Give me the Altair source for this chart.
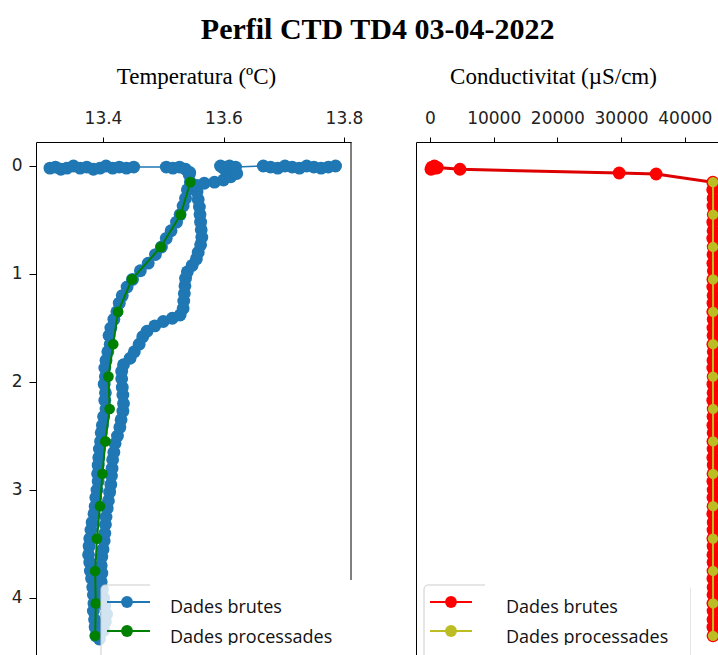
import altair as alt
import pandas as pd

# ---------------- Temperature: raw samples (ºC, depth m), in sampling order ----------------
# surface readings (left group)
t_surf_a = [13.312, 13.321, 13.330, 13.340, 13.351, 13.362, 13.373, 13.384, 13.395, 13.405,
            13.416, 13.427, 13.439, 13.451, 13.505, 13.516, 13.527, 13.537, 13.544]
d_surf_a = [0.02, 0.01, 0.03, 0.02, 0.00, 0.02, 0.01, 0.03, 0.02, 0.00,
            0.02, 0.01, 0.02, 0.01, 0.01, 0.02, 0.01, 0.03, 0.06]
# downcast
t_down = [13.543, 13.545, 13.540, 13.537, 13.533, 13.528, 13.522, 13.513, 13.505, 13.497,
          13.487, 13.475, 13.462, 13.449, 13.440, 13.432, 13.427, 13.423, 13.418, 13.413,
          13.410, 13.412, 13.408, 13.405, 13.403, 13.404, 13.402, 13.404, 13.403, 13.405,
          13.401, 13.399, 13.397, 13.396, 13.394, 13.393, 13.392, 13.391, 13.392, 13.390,
          13.388, 13.387, 13.385, 13.382, 13.380, 13.378, 13.377, 13.376, 13.378, 13.379,
          13.381, 13.383, 13.384, 13.385, 13.384, 13.386, 13.387, 13.388]
d_down = [0.08, 0.15, 0.22, 0.30, 0.37, 0.45, 0.52, 0.60, 0.67, 0.75,
          0.82, 0.90, 0.97, 1.05, 1.12, 1.20, 1.27, 1.35, 1.42, 1.50,
          1.57, 1.65, 1.72, 1.80, 1.87, 1.95, 2.02, 2.10, 2.17, 2.25,
          2.32, 2.40, 2.47, 2.55, 2.62, 2.70, 2.77, 2.85, 2.92, 3.00,
          3.07, 3.15, 3.22, 3.30, 3.37, 3.45, 3.52, 3.60, 3.67, 3.75,
          3.82, 3.90, 3.97, 4.05, 4.12, 4.20, 4.27, 4.35]
# upcast
t_up = [13.394, 13.401, 13.404, 13.406, 13.403, 13.401, 13.399, 13.397, 13.398, 13.397,
        13.398, 13.400, 13.402, 13.403, 13.404, 13.405, 13.407, 13.409, 13.411, 13.413,
        13.414, 13.415, 13.416, 13.418, 13.420, 13.424, 13.428, 13.430, 13.433, 13.434,
        13.433, 13.432, 13.431, 13.431, 13.434, 13.445, 13.452, 13.460, 13.466, 13.473,
        13.486, 13.500, 13.515, 13.528, 13.533, 13.534, 13.535, 13.536, 13.537, 13.540,
        13.548, 13.555, 13.558, 13.562, 13.564, 13.563, 13.562, 13.561, 13.560, 13.558,
        13.556, 13.556]
d_up = [4.38, 4.30, 4.22, 4.15, 4.07, 4.00, 3.92, 3.85, 3.77, 3.70,
        3.62, 3.55, 3.47, 3.40, 3.32, 3.25, 3.17, 3.10, 3.02, 2.95,
        2.87, 2.80, 2.72, 2.65, 2.57, 2.50, 2.42, 2.35, 2.27, 2.20,
        2.12, 2.05, 1.97, 1.90, 1.84, 1.78, 1.72, 1.65, 1.58, 1.53,
        1.48, 1.44, 1.41, 1.38, 1.32, 1.25, 1.18, 1.11, 1.04, 0.98,
        0.92, 0.86, 0.80, 0.73, 0.66, 0.59, 0.52, 0.45, 0.38, 0.31,
        0.24, 0.18]
# back at the surface (right group)
t_surf_b = [13.568, 13.585, 13.600, 13.612, 13.622, 13.615, 13.603, 13.595, 13.600, 13.610,
            13.620, 13.666, 13.678, 13.690, 13.702, 13.714, 13.726, 13.738, 13.750, 13.762,
            13.774, 13.786]
d_surf_b = [0.16, 0.15, 0.13, 0.10, 0.07, 0.03, 0.01, 0.00, 0.02, 0.00,
            0.01, 0.00, 0.01, 0.02, 0.00, 0.01, 0.02, 0.00, 0.01, 0.02,
            0.01, 0.00]

# ---------------- Processed profile (0.3 m bins) ----------------
depth_proc = [0.15, 0.45, 0.75, 1.05, 1.35, 1.65, 1.95, 2.25, 2.55, 2.85, 3.15, 3.45, 3.75, 4.05, 4.35]
temp_proc = [13.545, 13.529, 13.496, 13.448, 13.425, 13.417, 13.409, 13.411, 13.404, 13.399,
             13.395, 13.390, 13.387, 13.388, 13.387]
cond_proc = [44430, 44440, 44420, 44430, 44440, 44430, 44420, 44430, 44440, 44430,
             44430, 44420, 44430, 44440, 44430]

# ---------------- Conductivity: raw samples (µS/cm, depth m) ----------------
cond_raw = [300, 700, 150, 950, 500, 1150, 4700, 29700, 35500, 44400,
            44380, 44450, 44420, 44470, 44400, 44440, 44390, 44460, 44430, 44410,
            44480, 44420, 44400, 44450, 44430, 44390, 44460, 44420, 44440, 44410,
            44470, 44430, 44400, 44450, 44420, 44440, 44390, 44460, 44430, 44410,
            44450, 44420, 44440, 44400, 44470, 44430, 44410, 44450, 44420, 44440,
            44390, 44460, 44430, 44410, 44450, 44420, 44440, 44430, 44410, 44450,
            44430, 44420, 44440, 44430, 44420, 44430]
depth_raw_c = [0.01, 0.00, 0.03, 0.02, 0.02, 0.015, 0.03, 0.065, 0.074, 0.15,
               0.22, 0.30, 0.37, 0.45, 0.52, 0.60, 0.67, 0.75, 0.82, 0.90,
               0.97, 1.05, 1.12, 1.20, 1.27, 1.35, 1.42, 1.50, 1.57, 1.65,
               1.72, 1.80, 1.87, 1.95, 2.02, 2.10, 2.17, 2.25, 2.32, 2.40,
               2.47, 2.55, 2.62, 2.70, 2.77, 2.85, 2.92, 3.00, 3.07, 3.15,
               3.22, 3.30, 3.37, 3.45, 3.52, 3.60, 3.67, 3.75, 3.82, 3.90,
               3.97, 4.05, 4.12, 4.20, 4.27, 4.35]

legend_labels = ["Dades brutes", "Dades processades"]

# ---------------- Tables ----------------
temp_raw = t_surf_a + t_down + t_up + t_surf_b
depth_raw_t = d_surf_a + d_down + d_up + d_surf_b
df_t_raw = pd.DataFrame({"i": range(len(temp_raw)), "t": temp_raw, "d": depth_raw_t})
df_proc = pd.DataFrame({"i": range(len(depth_proc)), "t": temp_proc, "c": cond_proc, "d": depth_proc})
df_c_raw = pd.DataFrame({"i": range(len(cond_raw)), "c": cond_raw, "d": depth_raw_c})
one = pd.DataFrame({"k": [0]})

W1, W2, H = 315, 302, 513
BLUE, GREEN, RED, OLIVE = "#1f77b4", "#008000", "#ff0000", "#bcbd22"
TICK_FONT, LEG_FONT, SERIF = "DejaVu Sans", "Open Sans", "Liberation Serif"

y_scale = alt.Scale(domain=[-0.2222, 4.5278], reverse=True, nice=False, zero=False)


def x_axis(title, values, fmt, title_x):
    return alt.Axis(orient="top", values=values, format=fmt, title=title, grid=False,
                    titleFont=SERIF, titleFontSize=23, titleFontWeight="normal", titleColor="black",
                    titleX=title_x, titleY=-59, titleAlign="center", titleBaseline="alphabetic",
                    labelFont=TICK_FONT, labelFontSize=17, labelColor="#222222", labelPadding=10,
                    labelOverlap=False, tickSize=5, tickColor="black", domainColor="black")


y_axis_left = alt.Axis(orient="left", values=[0, 1, 2, 3, 4], format="d", title=None, grid=False,
                       labelFont=TICK_FONT, labelFontSize=17, labelColor="#222222", labelPadding=7,
                       tickSize=7, tickColor="black", domainColor="black")
y_axis_right = alt.Axis(orient="left", labels=False, ticks=False, title=None, grid=False,
                        domainColor="black")


def legend_layers(frame_x, handle_x0, handle_x1, dot_x, cover_x0, cover_x1, text_x, colors):
    """Legend box with line+marker handles and the two labels."""
    frame = alt.Chart(one).mark_rect(cornerRadius=4, fill="white", fillOpacity=0.8,
                                     stroke="#cccccc", strokeWidth=1, clip=True).encode(
        x=alt.value(frame_x), x2=alt.value(cover_x1), y=alt.value(443), y2=alt.value(540))
    parts = [frame]
    for row, col in enumerate(colors):
        yy = 460 + 29 * row
        parts.append(alt.Chart(one).mark_rule(color=col, strokeWidth=2).encode(
            x=alt.value(handle_x0), x2=alt.value(handle_x1), y=alt.value(yy)))
        parts.append(alt.Chart(one).mark_circle(color=col, opacity=1, size=140).encode(
            x=alt.value(dot_x), y=alt.value(yy)))
    parts.append(alt.Chart(one).mark_rect(fill="white", clip=True).encode(
        x=alt.value(cover_x0), x2=alt.value(cover_x1), y=alt.value(440), y2=alt.value(H)))
    for row, lab in enumerate(legend_labels):
        parts.append(alt.Chart(one).mark_text(font=LEG_FONT, fontSize=18, color="#111111",
                                              align="left", baseline="alphabetic").encode(
            x=alt.value(text_x), y=alt.value(471 + 30 * row), text=alt.value(lab)))
    # the lower label is cut along its baseline
    parts.append(alt.Chart(one).mark_rect(fill="white", clip=True).encode(
        x=alt.value(cover_x0), x2=alt.value(cover_x1), y=alt.value(503), y2=alt.value(H)))
    return parts


# ---------------- Left panel: temperature ----------------
xt = alt.X("t:Q", scale=alt.Scale(domain=[13.2888, 13.8116], nice=False, zero=False),
           axis=x_axis("Temperatura (ºC)", [13.4, 13.6, 13.8], ".1f", 160))
yd = alt.Y("d:Q", scale=y_scale, axis=y_axis_left)

t_raw_line = alt.Chart(df_t_raw).mark_line(color=BLUE, strokeWidth=1.5, clip=True).encode(
    x=xt, y=yd, order="i:Q")
t_raw_pts = alt.Chart(df_t_raw).mark_circle(color=BLUE, opacity=1, size=165, clip=True).encode(
    x="t:Q", y="d:Q")
t_proc_line = alt.Chart(df_proc).mark_line(color=GREEN, strokeWidth=2, clip=True).encode(
    x="t:Q", y="d:Q", order="i:Q")
t_proc_pts = alt.Chart(df_proc).mark_circle(color=GREEN, opacity=1, size=115, clip=True).encode(
    x="t:Q", y="d:Q")
left_edge = alt.Chart(one).mark_rule(color="black", strokeWidth=1).encode(
    x=alt.value(W1), y=alt.value(0), y2=alt.value(438))

left = alt.layer(
    t_raw_line, t_raw_pts, t_proc_line, t_proc_pts, left_edge,
    *legend_layers(65, 71, 114, 91, 114, W1, 134, [BLUE, GREEN]),
).properties(width=W1, height=H)

# ---------------- Right panel: conductivity ----------------
xc = alt.X("c:Q", scale=alt.Scale(domain=[-2198, 45212], nice=False, zero=False),
           axis=x_axis("Conductivitat (µS/cm)", [0, 10000, 20000, 30000, 40000], "d", 137))
yd2 = alt.Y("d:Q", scale=y_scale, axis=y_axis_right)

c_raw_line = alt.Chart(df_c_raw).mark_line(color="#dd0000", strokeWidth=3, clip=True).encode(
    x=xc, y=yd2, order="i:Q")
c_raw_pts = alt.Chart(df_c_raw).mark_circle(color=RED, opacity=1, size=165, clip=True).encode(
    x="c:Q", y="d:Q")
c_proc_line = alt.Chart(df_proc).mark_line(color=OLIVE, strokeWidth=2, clip=True).encode(
    x="c:Q", y="d:Q", order="i:Q")
c_proc_pts = alt.Chart(df_proc).mark_circle(color=OLIVE, opacity=1, size=105, clip=True).encode(
    x="c:Q", y="d:Q")

right = alt.layer(
    c_raw_line, c_raw_pts, c_proc_line, c_proc_pts,
    *legend_layers(8, 14, 56, 35, 69, 274, 90, [RED, OLIVE]),
).properties(width=W2, height=H)

chart = alt.hconcat(left, right, spacing=65, bounds="flush").properties(
    title=alt.TitleParams("Perfil CTD TD4 03-04-2022", font=SERIF, fontSize=30, fontWeight="bold",
                          color="black", anchor="middle", offset=20, dx=13),
    padding={"left": 11, "top": 15, "right": 0, "bottom": 0},
    background="white",
).configure_view(stroke=None)

chart.save("out.html", embed_options={"renderer": "svg", "actions": False})
